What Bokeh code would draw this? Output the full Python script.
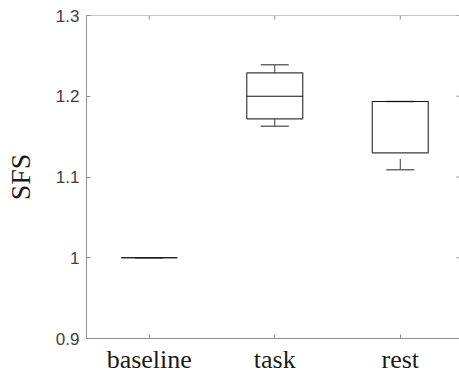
import math
from bokeh.plotting import figure
from bokeh.models import LinearAxis, FixedTicker, Range1d, ColumnDataSource, Span
from bokeh.embed import file_html
from bokeh.resources import INLINE

categories = ["baseline", "task", "rest"]
lower_whisker = [1.0, 1.163, 1.109]
q1 = [1.0, 1.172, 1.130]
median = [1.0, 1.200, 1.1935]
q3 = [1.0, 1.229, 1.1935]
upper_whisker = [1.0, 1.239, 1.1935]
y_ticks = [0.9, 1.0, 1.1, 1.2, 1.3]
y_tick_labels = ["0.9", "1", "1.1", "1.2", "1.3"]

pos = [i + 1 for i in range(len(categories))]
box_half = 0.223
cap_half = 0.112
x_start, x_end = 0.5, 3.472
y_start, y_end = 0.9, 1.3

src = ColumnDataSource(dict(
    x=pos,
    left=[p - box_half for p in pos],
    right=[p + box_half for p in pos],
    cl=[p - cap_half for p in pos],
    cr=[p + cap_half for p in pos],
    lo=lower_whisker, q1=q1, med=median, q3=q3, hi=upper_whisker,
))

p = figure(width=459, height=378, output_backend="svg", toolbar_location=None,
           x_range=Range1d(x_start, x_end), y_range=Range1d(y_start, y_end),
           min_border_left=86, min_border_right=0, min_border_top=15,
           min_border_bottom=40, x_axis_location=None, y_axis_location=None)
p.outline_line_color = None
p.xgrid.visible = False
p.ygrid.visible = False
p.background_fill_color = "white"
p.border_fill_color = "white"

axis_col = "#8f8f8f"
lab_col = "#404040"

left = LinearAxis(ticker=FixedTicker(ticks=y_ticks),
                  major_label_overrides={t: l for t, l in zip(y_ticks, y_tick_labels)})
left.axis_label = "SFS"
left.axis_label_text_font = "Liberation Serif"
left.axis_label_text_font_size = "28px"
left.axis_label_text_font_style = "normal"
left.axis_label_text_color = "#1a1a1a"
left.axis_label_standoff = 17
left.major_label_text_font = "Liberation Sans"
left.major_label_text_font_size = "17px"
left.major_label_text_color = lab_col
left.major_label_standoff = 7
left.axis_line_color = axis_col
left.major_tick_line_color = axis_col
left.major_tick_in = 4
left.major_tick_out = 0
left.minor_tick_line_color = None
p.add_layout(left, "left")

bottom = LinearAxis(ticker=FixedTicker(ticks=pos),
                    major_label_overrides={pp: c for pp, c in zip(pos, categories)})
bottom.major_label_text_font = "Liberation Serif"
bottom.major_label_text_font_size = "26px"
bottom.major_label_text_color = "#1a1a1a"
bottom.major_label_standoff = 6
bottom.axis_line_color = axis_col
bottom.major_tick_line_color = axis_col
bottom.major_tick_in = 4
bottom.major_tick_out = 0
bottom.minor_tick_line_color = None
p.add_layout(bottom, "below")

# top frame line and inward ticks (top and right)
p.add_layout(Span(location=y_end, dimension="width", line_color=axis_col, line_width=1))
p.ray(x=pos, y=[y_end] * len(pos), length=4, length_units="screen", angle=-math.pi / 2,
      line_color=axis_col, line_width=1)
p.ray(x=[x_end] * len(y_ticks), y=y_ticks, length=3, length_units="screen", angle=math.pi,
      line_color=axis_col, line_width=1)

box_col = "#3a3a3a"
cap_col = "#6a6a6a"

# whiskers
p.segment(x0="x", y0="hi", x1="x", y1="q3", source=src, line_color=box_col, line_width=1)
p.segment(x0="x", y0="lo", x1="x", y1="q1", source=src, line_color=box_col, line_width=1,
          line_dash="11 6")
# caps
p.segment(x0="cl", y0="hi", x1="cr", y1="hi", source=src, line_color=cap_col, line_width=1.5)
p.segment(x0="cl", y0="lo", x1="cr", y1="lo", source=src, line_color=cap_col, line_width=1.5)
# boxes
p.quad(left="left", right="right", bottom="q1", top="q3", source=src,
       fill_color=None, line_color=box_col, line_width=1.2)
# medians
p.segment(x0="left", y0="med", x1="right", y1="med", source=src, line_color="#111111",
          line_width=1.2)

open("out.html", "w").write(file_html(p, INLINE))
